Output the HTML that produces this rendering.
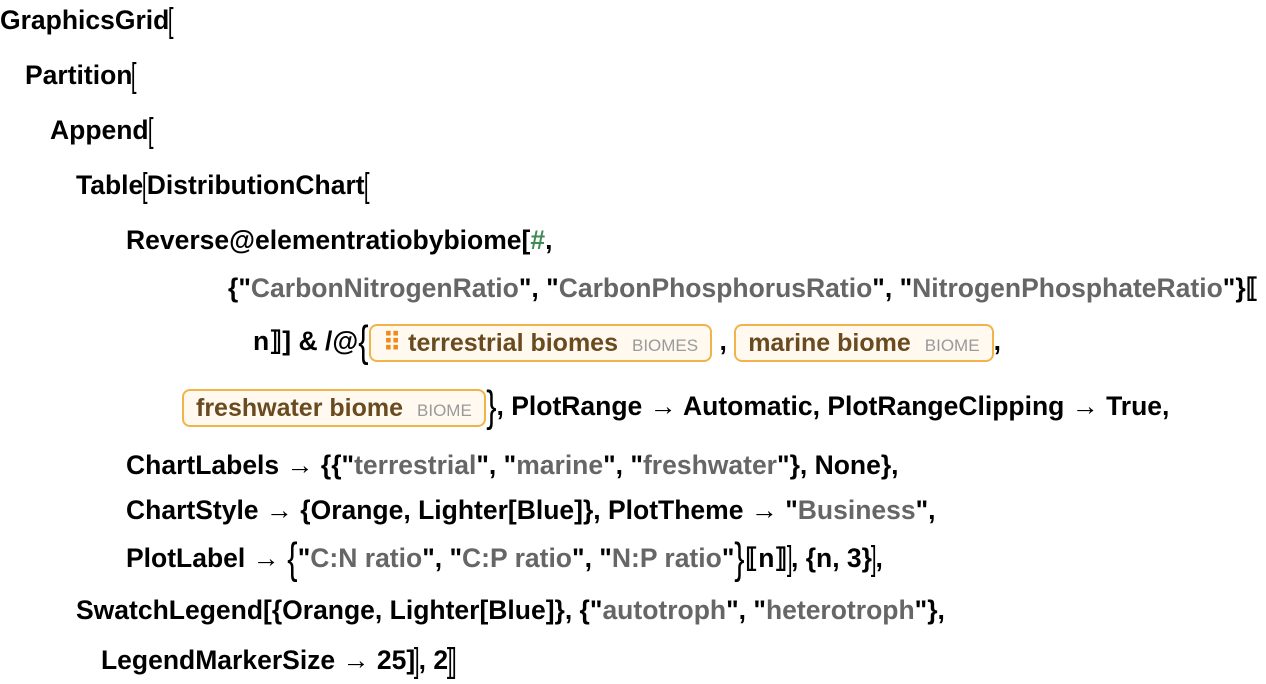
<!DOCTYPE html>
<html><head><meta charset="utf-8"><style>
body{margin:0;background:#fff;width:1266px;height:684px;position:relative;overflow:hidden;font-family:"Liberation Sans",sans-serif;font-weight:bold;font-size:26.5px;color:#000}
.l{position:absolute;white-space:nowrap;line-height:28px;height:28px}
.s{color:#666}
.g{color:#3f8a55}
.br{display:inline-block;font-weight:normal;font-size:34px;transform:scaleX(0.6);vertical-align:-3px;margin:0 -3px}
.bb{display:inline-block;font-weight:normal;font-size:44px;transform:scaleX(0.7);vertical-align:-6px;margin:0 -2px}
.box{display:inline-block;border:2px solid #f1b34a;background:#fff9ef;border-radius:8px;color:#6a4a1f;padding:0 12px;height:34px;line-height:34px;vertical-align:middle;font-size:25px}
.tag{color:#9a9a9a;font-weight:normal;font-size:17px;margin-left:14px}
.a{font-size:27px}
</style></head><body>
<div class="l" style="left:0;top:6px">GraphicsGrid<span class="br">[</span></div>
<div class="l" style="left:25px;top:61px">Partition<span class="br">[</span></div>
<div class="l" style="left:50px;top:116px">Append<span class="br">[</span></div>
<div class="l" style="left:76px;top:171px">Table<span class="br">[</span>DistributionChart<span class="br">[</span></div>
<div class="l" style="left:126px;top:226px">Reverse@elementratiobybiome[<span class="g">#</span>,</div>
<div class="l" style="left:228px;top:274px">{"<span class="s">CarbonNitrogenRatio</span>", "<span class="s">CarbonPhosphorusRatio</span>", "<span class="s">NitrogenPhosphateRatio</span>"}⟦</div>
<div class="l" style="left:253px;top:324px;height:40px">n⟧] &amp; /@<span class="bb">{</span><span class="box"><span style="color:#f08a1c">⠿</span> terrestrial biomes<span class="tag">BIOMES</span></span> , <span class="box">marine biome<span class="tag">BIOME</span></span>,</div>
<div class="l" style="left:182px;top:389px;height:40px"><span class="box">freshwater biome<span class="tag">BIOME</span></span><span class="bb">}</span>, PlotRange <span class="a">→</span> Automatic, PlotRangeClipping <span class="a">→</span> True,</div>
<div class="l" style="left:126px;top:451px">ChartLabels <span class="a">→</span> {{"<span class="s">terrestrial</span>", "<span class="s">marine</span>", "<span class="s">freshwater</span>"}, None},</div>
<div class="l" style="left:126px;top:496px">ChartStyle <span class="a">→</span> {Orange, Lighter[Blue]}, PlotTheme <span class="a">→</span> "<span class="s">Business</span>",</div>
<div class="l" style="left:126px;top:544px">PlotLabel <span class="a">→</span> <span class="bb">{</span>"<span class="s">C:N ratio</span>", "<span class="s">C:P ratio</span>", "<span class="s">N:P ratio</span>"<span class="bb">}</span>⟦n⟧<span class="br">]</span>, {n, 3}<span class="br">]</span>,</div>
<div class="l" style="left:76px;top:596px">SwatchLegend[{Orange, Lighter[Blue]}, {"<span class="s">autotroph</span>", "<span class="s">heterotroph</span>"},</div>
<div class="l" style="left:101px;top:646px">LegendMarkerSize <span class="a">→</span> 25]<span class="br">]</span>, 2<span class="br">]</span><span class="br">]</span></div>
</body></html>
